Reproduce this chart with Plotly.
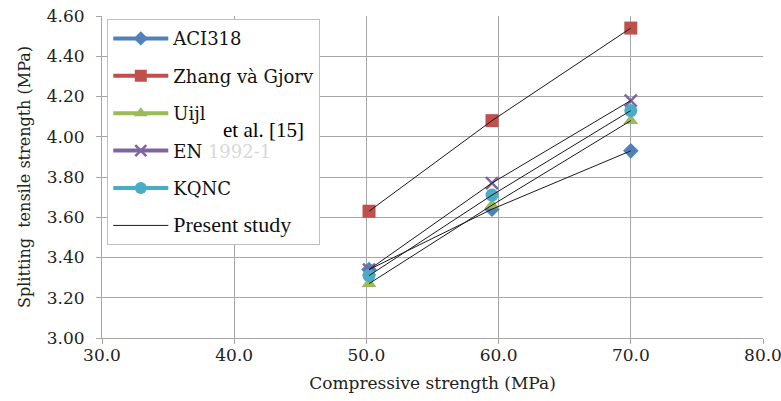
import plotly.graph_objects as go

# Data
compressive = [50.2, 59.5, 70.0]
aci318 = [3.34, 3.64, 3.93]
zhang = [3.63, 4.08, 4.54]
uijl = [3.27, 3.66, 4.08]
en1992 = [3.34, 3.77, 4.18]
kqnc = [3.31, 3.71, 4.13]

series = [
    ("ACI318", aci318, "#4F81BD", "diamond", 12),
    ("Zhang và Gjorv", zhang, "#C0504D", "square", 13),
    ("Uijl", uijl, "#9BBB59", "triangle-up", 13),
    ("EN <span style='color:#d8d8d8'>1992-1</span>", en1992, "#8064A2", "x-thin", 12),
    ("KQNC", kqnc, "#4BACC6", "circle", 13),
]

x_ticks = [30, 40, 50, 60, 70, 80]
y_ticks = [3.0, 3.2, 3.4, 3.6, 3.8, 4.0, 4.2, 4.4, 4.6]

SERIF = "DejaVu Serif, serif"
TIMES = "Liberation Serif, Times New Roman, serif"
fig = go.Figure()

# markers (plot)
for i, (name, vals, col, sym, sz) in enumerate(series):
    mk = dict(color=col, size=sz, symbol=sym)
    if sym == "x-thin":
        mk["line"] = dict(color=col, width=2.5)
    fig.add_trace(go.Scatter(x=compressive, y=vals, mode="markers", marker=mk,
                             showlegend=False, hoverinfo="skip"))

# legend-only entries
for i, (name, vals, col, sym, sz) in enumerate(series):
    mk = dict(color=col, size=sz - 1, symbol=sym)
    if sym == "x-thin":
        mk["line"] = dict(color=col, width=2.5)
    fig.add_trace(go.Scatter(x=[None], y=[None], mode="lines+markers", name=name,
                             line=dict(color=col, width=4), marker=mk,
                             legendgroup="g%d" % i, showlegend=True))

# black connecting lines (present study)
for i, (name, vals, col, sym, sz) in enumerate(series):
    fig.add_trace(go.Scatter(x=compressive, y=vals, mode="lines",
                             line=dict(color="#1a1a1a", width=1),
                             showlegend=False, hoverinfo="skip"))
fig.add_trace(go.Scatter(x=[None], y=[None], mode="lines",
                         name="<span style='font-family:\"Liberation Serif\", serif;font-size:22px'>Present study</span>",
                         line=dict(color="#1a1a1a", width=1),
                         legendgroup="g9", showlegend=True))

fig.add_annotation(text="et al. [15]", x=0.245, y=0.645, xref="paper", yref="paper",
                   xanchor="center", yanchor="middle",
                   showarrow=False, bgcolor="white",
                   font=dict(family=TIMES, size=21, color="black"))

fig.update_layout(
    width=781, height=401,
    margin=dict(l=102, r=18, t=16, b=63),
    paper_bgcolor="white", plot_bgcolor="white",
    font=dict(family=SERIF, size=16, color="#222"),
    legend=dict(x=0.008, y=0.99, xanchor="left", yanchor="top",
                bordercolor="#bfbfbf", borderwidth=1, bgcolor="white",
                font=dict(family=SERIF, size=18, color="#111"),
                tracegroupgap=11, itemwidth=55),
    xaxis=dict(range=[30, 80], tickvals=x_ticks, ticktext=["%.1f" % v for v in x_ticks],
               automargin=False, ticklabeloverflow="allow", ticklabelstandoff=-3,
               showgrid=True, gridcolor="#a6a6a6", gridwidth=1,
               showline=True, linecolor="#a6a6a6", ticks="outside", ticklen=5,
               tickcolor="#a6a6a6", zeroline=False,
               tickfont=dict(family=SERIF, size=17, color="#222"),
               title=dict(text="Compressive strength (MPa)", standoff=12,
                          font=dict(family=SERIF, size=17, color="#222"))),
    yaxis=dict(range=[3.0, 4.6], tickvals=y_ticks, ticktext=["%.2f" % v for v in y_ticks],
               automargin=False, ticklabelstandoff=8,
               showgrid=True, gridcolor="#a6a6a6", gridwidth=1,
               showline=True, linecolor="#a6a6a6", ticks="outside", ticklen=5,
               tickcolor="#a6a6a6", zeroline=False,
               tickfont=dict(family=SERIF, size=17, color="#222"),
               title=dict(text="Splitting  tensile strength (MPa)", standoff=12,
                          font=dict(family=SERIF, size=16, color="#222"))),
)

fig.write_html("out.html")
